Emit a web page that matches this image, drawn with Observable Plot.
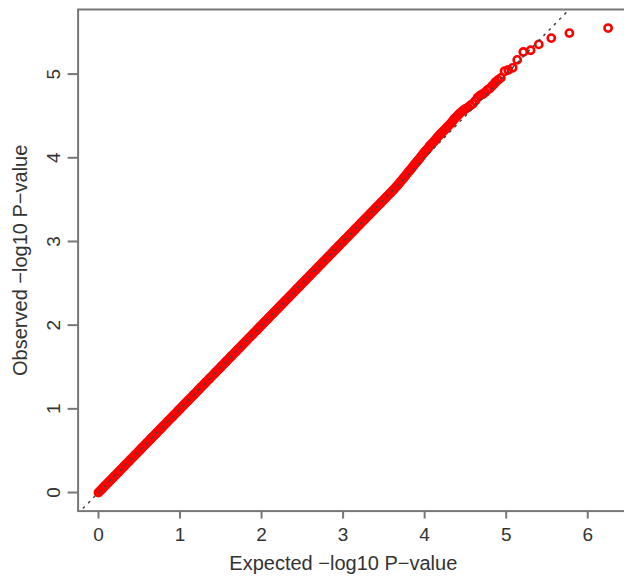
<!DOCTYPE html>
<html><head><meta charset="utf-8">
<script src="https://cdn.jsdelivr.net/npm/d3@7"></script>
<script src="https://cdn.jsdelivr.net/npm/@observablehq/plot@0.6"></script>
<style>
html,body{margin:0;padding:0;background:#fff;overflow:hidden}
#chart{width:624px;height:577px;overflow:hidden}
#chart svg{overflow:hidden}
</style></head><body><div id="chart"></div>
<script>
const expected = [
0,0.02,0.04,0.06,0.08,0.1,0.12,0.14,0.16,0.18,
0.2,0.22,0.24,0.26,0.28,0.3,0.32,0.34,0.36,0.38,
0.4,0.42,0.44,0.46,0.48,0.5,0.52,0.54,0.56,0.58,
0.6,0.62,0.64,0.66,0.68,0.7,0.72,0.74,0.76,0.78,
0.8,0.82,0.84,0.86,0.88,0.9,0.92,0.94,0.96,0.98,
1,1.02,1.04,1.06,1.08,1.1,1.12,1.14,1.16,1.18,
1.2,1.22,1.24,1.26,1.28,1.3,1.32,1.34,1.36,1.38,
1.4,1.42,1.44,1.46,1.48,1.5,1.52,1.54,1.56,1.58,
1.6,1.62,1.64,1.66,1.68,1.7,1.72,1.74,1.76,1.78,
1.8,1.82,1.84,1.86,1.88,1.9,1.92,1.94,1.96,1.98,
2,2.02,2.04,2.06,2.08,2.1,2.12,2.14,2.16,2.18,
2.2,2.22,2.24,2.26,2.28,2.3,2.32,2.34,2.36,2.38,
2.4,2.42,2.44,2.46,2.48,2.5,2.52,2.54,2.56,2.58,
2.6,2.62,2.64,2.66,2.68,2.7,2.72,2.74,2.76,2.78,
2.8,2.82,2.84,2.86,2.88,2.9,2.92,2.94,2.96,2.98,
3,3.02,3.04,3.06,3.08,3.1,3.12,3.14,3.16,3.18,
3.2,3.22,3.24,3.26,3.28,3.3,3.32,3.34,3.36,3.38,
3.4,3.42,3.44,3.46,3.48,3.5,3.52,3.54,3.56,3.58,
3.6,3.62,3.64,3.66,3.68,3.7,3.72,3.74,3.76,3.78,
3.8,3.82,3.84,3.86,3.88,3.9,3.92,3.94,3.96,3.98,
4,4.02,4.04,4.06,4.08,4.1,4.12,4.14,4.16,4.18,
4.2,4.22,4.24,4.26,4.28,4.3,4.32,4.34,4.36,4.38,
4.4,4.42,4.44,4.46,4.48,4.5,
4.53,4.56,4.59,4.62,4.65,4.68,4.71,4.74,4.77,4.8,
4.83,4.85,4.87,4.9,4.935,4.98,5.025,5.08,5.135,5.21,
5.3,5.4,5.553,5.775,6.25
];
const observed = [
0,0.02,0.04,0.06,0.08,0.1,0.12,0.14,0.16,0.18,
0.2,0.22,0.24,0.26,0.28,0.3,0.32,0.34,0.36,0.38,
0.4,0.42,0.44,0.46,0.48,0.5,0.52,0.54,0.56,0.58,
0.6,0.62,0.64,0.66,0.68,0.7,0.72,0.74,0.76,0.78,
0.8,0.82,0.84,0.86,0.88,0.9,0.92,0.94,0.96,0.98,
1,1.02,1.04,1.06,1.08,1.1,1.12,1.14,1.16,1.18,
1.2,1.22,1.24,1.26,1.28,1.3,1.32,1.34,1.36,1.38,
1.4,1.42,1.44,1.46,1.48,1.5,1.52,1.54,1.56,1.58,
1.6,1.62,1.64,1.66,1.68,1.7,1.72,1.74,1.76,1.78,
1.8,1.82,1.84,1.86,1.88,1.9,1.92,1.94,1.96,1.98,
2,2.02,2.04,2.06,2.08,2.1,2.12,2.14,2.16,2.18,
2.2,2.22,2.24,2.26,2.28,2.3,2.32,2.34,2.36,2.38,
2.4,2.42,2.44,2.46,2.48,2.5,2.52,2.54,2.56,2.58,
2.6,2.62,2.64,2.66,2.68,2.7,2.72,2.74,2.76,2.78,
2.8,2.82,2.84,2.86,2.88,2.9,2.92,2.94,2.96,2.98,
3,3.02,3.04,3.06,3.08,3.1,3.12,3.14,3.16,3.18,
3.2,3.22,3.24,3.26,3.28,3.3,3.32,3.34,3.36,3.38,
3.4,3.42,3.44,3.46,3.48,3.5,3.52,3.54,3.56,3.58,
3.6,3.62,3.642,3.663,3.685,3.71,3.733,3.756,3.78,3.805,
3.83,3.852,3.875,3.9,3.925,3.948,3.97,3.995,4.02,4.045,
4.07,4.09,4.11,4.14,4.16,4.18,4.2,4.225,4.25,4.27,
4.29,4.31,4.33,4.35,4.37,4.39,4.41,4.435,4.46,4.48,
4.5,4.52,4.54,4.555,4.57,4.585,
4.6,4.625,4.645,4.68,4.72,4.745,4.76,4.78,4.81,4.83,
4.86,4.88,4.905,4.93,4.955,5.035,5.05,5.075,5.17,5.265,
5.285,5.355,5.43,5.49,5.55
];
const xTicks = [0, 1, 2, 3, 4, 5, 6];
const yTicks = [0, 1, 2, 3, 4, 5];
const xTitle = "Expected −log10 P−value";
const yTitle = "Observed −log10 P−value";
const refLine = [-0.25, 6.5]; // y = x reference line ends

const points = expected.map((e, i) => ({e, o: observed[i]}));
const font = "'Liberation Sans', Arial, Helvetica, sans-serif";

const chart = Plot.plot({
  width: 624, height: 577,
  marginLeft: 77.6, marginRight: -4, marginTop: 9, marginBottom: 66.4,
  style: {fontFamily: font, background: "white", overflow: "hidden"},
  x: {domain: [-0.25, 6.5], axis: null},
  y: {domain: [-0.222, 5.772], axis: null},
  marks: [
    Plot.dot(points, {x: "e", y: "o", r: 3.6, stroke: "#ff0000", strokeWidth: 2.6, fill: "none"}),
    Plot.line(refLine, {x: d => d, y: d => d, stroke: "#444", strokeWidth: 1.5, strokeDasharray: "1.5,6", clip: true}),
    Plot.frame({stroke: "#777", strokeWidth: 2}),
    Plot.axisX({ticks: xTicks, tickSize: 8, tickPadding: 8, fontSize: 19, stroke: "#777", strokeWidth: 2, fill: "#333", label: null, tickFormat: d => String(d)}),
    Plot.axisY({ticks: yTicks, tickSize: 10, tickPadding: 8, tickRotate: -90, fontSize: 19, stroke: "#777", strokeWidth: 2, fill: "#333", label: null, tickFormat: d => String(d)}),
    Plot.text([xTitle], {text: d => d, frameAnchor: "bottom", lineAnchor: "middle", textAnchor: "middle", dy: 52, dx: -10, fontSize: 20, fill: "#333"}),
    Plot.text([yTitle], {text: d => d, frameAnchor: "left", lineAnchor: "middle", textAnchor: "middle", dx: -57.6, rotate: -90, fontSize: 20, fill: "#333"})
  ]
});
document.getElementById("chart").appendChild(chart);
</script>
</body></html>
